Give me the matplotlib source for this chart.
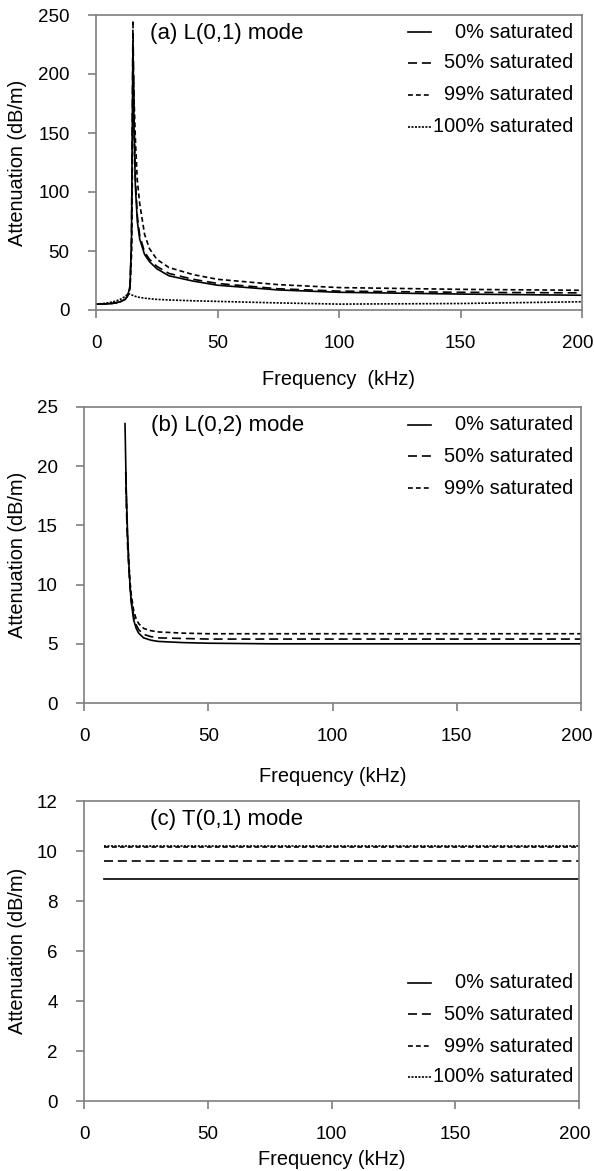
import matplotlib
matplotlib.use("Agg")
import matplotlib.pyplot as plt
from matplotlib.lines import Line2D
from matplotlib.transforms import ScaledTranslation

plt.rcParams['font.family'] = ['Liberation Sans', 'DejaVu Sans']
plt.rcParams['lines.scale_dashes'] = False

# ---------------- data ----------------
# (a) L(0,1) mode
freq_a0 = [0, 3, 6, 8, 10, 12, 13, 14, 14.6, 15.2, 15.7, 16.2, 17, 18, 20, 22, 25, 30, 40, 50, 75, 100, 150, 200]
att_a0 = [5, 5.1, 5.4, 6, 7, 9, 12, 20, 60, 228, 150, 105, 75, 60, 47, 41, 35, 29, 24.5, 21, 17, 15, 13.5, 12.5]
freq_a50 = [0, 3, 6, 8, 10, 12, 13, 14, 14.6, 15.2, 15.7, 16.2, 17, 18, 20, 22, 25, 30, 40, 50, 75, 100, 150, 200]
att_a50 = [5, 5.1, 5.4, 6, 7, 9, 12, 20, 60, 244, 160, 112, 80, 63, 49, 43, 37, 31, 26, 22.5, 18, 16, 15, 14.5]
freq_a99 = [0, 3, 6, 8, 10, 12, 13, 14, 14.7, 15.3, 15.8, 16.3, 17, 18, 20, 22, 25, 30, 40, 50, 75, 100, 150, 200]
att_a99 = [5, 5.1, 5.4, 6, 7, 9, 12, 18, 50, 205, 170, 140, 110, 90, 64, 52, 43, 36, 30, 26, 21.5, 19, 17.5, 16.7]
freq_a100 = [0, 3, 6, 8, 10, 12, 13.3, 15, 17, 20, 25, 30, 40, 50, 75, 100, 150, 200]
att_a100 = [5, 5.5, 6.5, 7.5, 9, 11.5, 14, 12.5, 11, 10, 9, 8.5, 7.8, 7.3, 6, 5, 5.5, 7]

# (b) L(0,2) mode
freq_b0 = [16.5, 17, 17.5, 18, 18.5, 19, 20, 21, 22, 24, 27, 30, 40, 50, 75, 100, 150, 200]
att_b0 = [23.6, 18, 14.5, 12, 10, 8.5, 7, 6.3, 5.9, 5.5, 5.3, 5.2, 5.1, 5.05, 5.0, 5.0, 5.0, 5.0]
freq_b50 = [16.8, 17.2, 17.6, 18, 18.5, 19, 20, 21, 22, 24, 27, 30, 40, 50, 75, 100, 150, 200]
att_b50 = [19.5, 15.5, 13, 11.5, 9.8, 8.7, 7.3, 6.6, 6.2, 5.8, 5.6, 5.5, 5.45, 5.4, 5.4, 5.4, 5.4, 5.4]
freq_b99 = [16.8, 17.2, 17.6, 18, 18.5, 19, 20, 21, 22, 24, 27, 30, 40, 50, 75, 100, 150, 200]
att_b99 = [19.5, 16, 13.5, 12, 10.3, 9.2, 7.8, 7.1, 6.7, 6.3, 6.1, 6.0, 5.9, 5.85, 5.85, 5.85, 5.85, 5.85]

# (c) T(0,1) mode
freq_c = [8, 50, 100, 150, 200]
att_c0 = [8.9, 8.9, 8.9, 8.9, 8.9]
att_c50 = [9.6, 9.6, 9.6, 9.6, 9.6]
att_c99 = [10.15, 10.15, 10.15, 10.15, 10.15]
att_c100 = [10.22, 10.22, 10.22, 10.22, 10.22]

labels = ['0% saturated', '50% saturated', '99% saturated', '100% saturated']

# ---------------- styles ----------------
LW = 1.2
styles = [
    dict(linestyle='-'),
    dict(linestyle=(0, (6.5, 3.5))),
    dict(linestyle=(0, (3.5, 2.2))),
    dict(linestyle=(0, (1.5, 1.0))),
]
GRAY = '#7f7f7f'
W, H = 594, 1171

fig = plt.figure(figsize=(W / 100, H / 100), dpi=100)


def make_ax(l, r, t, b):
    return fig.add_axes([l / W, 1 - b / H, (r - l) / W, (b - t) / H])


def style_ax(ax, yticks, xlabel, ylim, xlabelpad):
    ax.set_xlim(0, 200)
    ax.set_ylim(*ylim)
    ax.set_xticks([0, 50, 100, 150, 200])
    ax.set_yticks(yticks)
    for s in ax.spines.values():
        s.set_color(GRAY)
        s.set_linewidth(1.2)
    ax.tick_params(direction='out', length=6, width=1.2, color=GRAY,
                   labelsize=13.5, labelcolor='black')
    ax.tick_params(axis='y', pad=13)
    ax.tick_params(axis='x', pad=12)
    ax.set_xlabel(xlabel, fontsize=14.4, labelpad=xlabelpad)
    ax.set_ylabel('Attenuation (dB/m)', fontsize=14.4)
    # keep the last x tick label inside the figure
    fig.canvas.draw()
    lab = ax.get_xticklabels()[-1]
    lab.set_transform(lab.get_transform() + ScaledTranslation(-4 / 100, 0, fig.dpi_scale_trans))


def legend(rows_y, n):
    for i in range(n):
        y = 1 - rows_y[i] / H
        fig.add_artist(Line2D([408 / W, 431 / W], [y, y], color='black', lw=LW,
                              transform=fig.transFigure, **styles[i]))
        fig.text(573 / W, y, labels[i], ha='right', va='center', fontsize=14.4)


# (a)
axa = make_ax(96, 582, 15, 310)
for fx, ay, st in zip([freq_a0, freq_a50, freq_a99, freq_a100],
                      [att_a0, att_a50, att_a99, att_a100], styles):
    axa.plot(fx, ay, color='black', lw=LW, **st)
style_ax(axa, [0, 50, 100, 150, 200, 250], 'Frequency  (kHz)', (0, 250), 13)
axa.yaxis.set_label_coords(-0.142, 0.5)
fig.text(150 / W, 1 - 33 / H, '(a) L(0,1) mode', ha='left', va='center', fontsize=16)
legend([32, 63, 95, 127], 4)

# (b)
axb = make_ax(84, 581, 407, 703)
for fx, ay, st in zip([freq_b0, freq_b50, freq_b99],
                      [att_b0, att_b50, att_b99], styles):
    axb.plot(fx, ay, color='black', lw=LW, **st)
style_ax(axb, [0, 5, 10, 15, 20, 25], 'Frequency (kHz)', (0, 25), 16)
axb.yaxis.set_label_coords(-0.115, 0.5)
fig.text(151 / W, 1 - 425 / H, '(b) L(0,2) mode', ha='left', va='center', fontsize=16)
legend([425, 456, 488], 3)

# (c)
axc = make_ax(84, 579, 801, 1101)
for ay, st in zip([att_c0, att_c50, att_c99, att_c100], styles):
    axc.plot(freq_c, ay, color='black', lw=LW, **st)
style_ax(axc, [0, 2, 4, 6, 8, 10, 12], 'Frequency (kHz)', (0, 12), 5)
axc.yaxis.set_label_coords(-0.115, 0.5)
fig.text(150 / W, 1 - 820 / H, '(c) T(0,1) mode', ha='left', va='center', fontsize=16)
legend([983, 1014, 1046, 1077], 4)

fig.savefig('out.png', dpi=100)
